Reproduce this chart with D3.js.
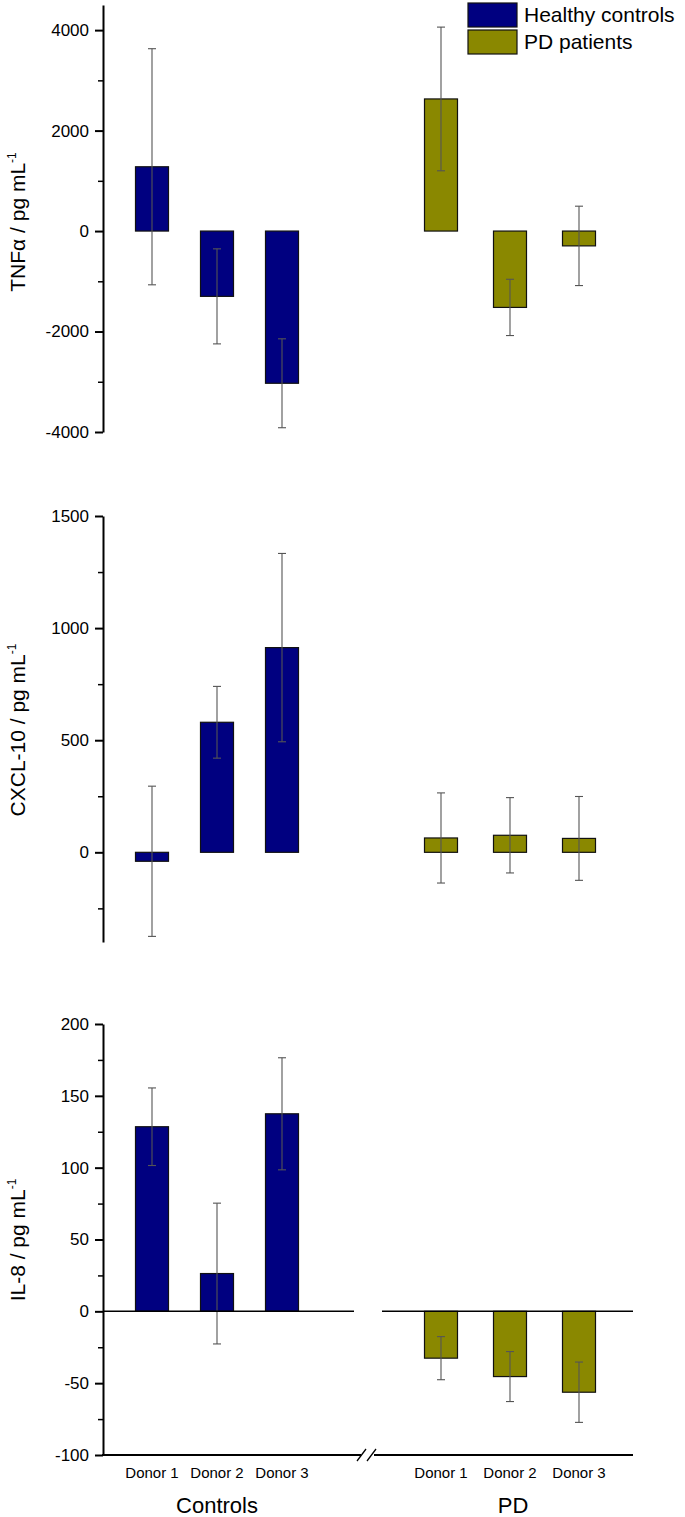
<!DOCTYPE html>
<html>
<head>
<meta charset="utf-8">
<script src="https://cdn.jsdelivr.net/npm/d3@7"></script>
<style>
  body { margin: 0; background: #fff; }
  text { font-family: "Liberation Sans", Arial, sans-serif; fill: #000; }
</style>
</head>
<body>
<script>
const width = 685
const height = 1517

// data
const donors = ["Donor 1", "Donor 2", "Donor 3"]
const groups = ["Controls", "PD"]
const seriesNames = ["Healthy controls", "PD patients"]

const tnfCtrl = [1280, -1300, -3030]
const tnfCtrlErr = [2350, 946, 885]
const tnfPD = [2630, -1520, -295]
const tnfPDErr = [1430, 560, 790]

const cxclCtrl = [-40, 580, 913]
const cxclCtrlErr = [335, 160, 420]
const cxclPD = [64, 76, 62]
const cxclPDErr = [201, 168, 187]

const il8Ctrl = [128.5, 26.3, 137.5]
const il8CtrlErr = [27, 49, 39]
const il8PD = [-32.6, -45.4, -56.3]
const il8PDErr = [15, 17.4, 21]

const tnfTicks = [-4000, -2000, 0, 2000, 4000]
const tnfMinor = [-3000, -1000, 1000, 3000]
const cxclTicks = [0, 500, 1000, 1500]
const cxclMinor = [-250, 250, 750, 1250]
const il8Ticks = [-100, -50, 0, 50, 100, 150, 200]
const il8Minor = [-75, -25, 25, 75, 125, 175]

const navy = '#000080'
const olive = '#8a8800'
const axisX = 103
const barW = 33

var svg = d3.select('body').append('svg')
    .attr('width', width)
    .attr('height', height)

// x positions: two separate point scales, one per group
const xCtrl = d3.scalePoint().domain(donors).range([152, 282])
const xPD = d3.scalePoint().domain(donors).range([441, 579])

// one panel = left axis + bars + error bars
function panel(opts) {
    let y = d3.scaleLinear().domain(opts.domain).range(opts.range)
    let g = svg.append('g')

    // left axis, major ticks (plain hyphen minus, no thousands comma)
    let ax = g.append('g')
        .attr('transform', 'translate(' + axisX + ',0)')
        .call(d3.axisLeft(y).tickValues(opts.ticks).tickSize(8).tickPadding(6)
            .tickSizeOuter(0).tickFormat((d) => String(d)))
    ax.select('.domain').attr('stroke-width', 2)
    ax.selectAll('.tick line').attr('stroke-width', 2)
    ax.selectAll('.tick text')
        .style('font-size', '17px')
        .style('font-family', '"Liberation Sans", Arial, sans-serif')
        .attr('fill', '#000')

    // minor ticks
    let mx = g.append('g')
        .attr('transform', 'translate(' + axisX + ',0)')
        .call(d3.axisLeft(y).tickValues(opts.minor).tickSize(5).tickFormat(''))
    mx.select('.domain').remove()
    mx.selectAll('.tick line').attr('stroke-width', 1.5)

    // title
    g.append('text')
        .attr('transform', 'translate(25,' + opts.titleY + ') rotate(-90)')
        .attr('text-anchor', 'middle')
        .style('font-size', '21px')
        .html(opts.title + '<tspan dy="-9" font-size="12px">-1</tspan>')

    let sets = [
        {x: xCtrl, vals: opts.ctrl, err: opts.ctrlErr, color: navy},
        {x: xPD, vals: opts.pd, err: opts.pdErr, color: olive}
    ]

    sets.forEach(function(s) {
        g.selectAll(null)
            .data(donors)
            .enter().append('rect')
            .attr('x', (d) => s.x(d) - barW / 2)
            .attr('width', barW)
            .attr('y', (d, i) => Math.min(y(0), y(s.vals[i])))
            .attr('height', (d, i) => Math.abs(y(s.vals[i]) - y(0)))
            .attr('fill', s.color)
            .attr('stroke', '#111')
            .attr('stroke-width', 1.2)

        // error bars
        donors.forEach(function(d, i) {
            let cx = s.x(d)
            let top = y(s.vals[i] + s.err[i])
            let bot = y(s.vals[i] - s.err[i])
            g.append('line')
                .attr('x1', cx).attr('x2', cx)
                .attr('y1', top).attr('y2', bot)
                .attr('stroke', '#555').attr('stroke-width', 1.1)
            g.append('line')
                .attr('x1', cx - 4).attr('x2', cx + 4)
                .attr('y1', top).attr('y2', top)
                .attr('stroke', '#555').attr('stroke-width', 1.1)
            g.append('line')
                .attr('x1', cx - 4).attr('x2', cx + 4)
                .attr('y1', bot).attr('y2', bot)
                .attr('stroke', '#555').attr('stroke-width', 1.1)
        })
    })
    return y
}

// TNF-alpha
panel({
    domain: [-4000, 4500], range: [432, 5],
    ticks: tnfTicks, minor: tnfMinor,
    title: 'TNFα / pg mL', titleY: 222,
    ctrl: tnfCtrl, ctrlErr: tnfCtrlErr, pd: tnfPD, pdErr: tnfPDErr
})

// CXCL-10
panel({
    domain: [-400, 1500], range: [942, 516],
    ticks: cxclTicks, minor: cxclMinor,
    title: 'CXCL-10 / pg mL', titleY: 730,
    ctrl: cxclCtrl, ctrlErr: cxclCtrlErr, pd: cxclPD, pdErr: cxclPDErr
})

// IL-8
let yIL = panel({
    domain: [-100, 200], range: [1455, 1024],
    ticks: il8Ticks, minor: il8Minor,
    title: 'IL-8 / pg mL', titleY: 1240,
    ctrl: il8Ctrl, ctrlErr: il8CtrlErr, pd: il8PD, pdErr: il8PDErr
})

// zero line in IL-8 panel, broken between the groups
let y0 = yIL(0)
svg.append('line').attr('x1', axisX).attr('x2', 354).attr('y1', y0).attr('y2', y0)
    .attr('stroke', '#000').attr('stroke-width', 1.5)
svg.append('line').attr('x1', 382).attr('x2', 633).attr('y1', y0).attr('y2', y0)
    .attr('stroke', '#000').attr('stroke-width', 1.5)

// bottom axis with break marks
let yb = yIL(-100)
svg.append('line').attr('x1', axisX - 1).attr('x2', 361).attr('y1', yb).attr('y2', yb)
    .attr('stroke', '#000').attr('stroke-width', 2)
svg.append('line').attr('x1', 374).attr('x2', 633).attr('y1', yb).attr('y2', yb)
    .attr('stroke', '#000').attr('stroke-width', 2)
svg.append('line').attr('x1', 357).attr('x2', 366).attr('y1', yb + 6).attr('y2', yb - 6)
    .attr('stroke', '#000').attr('stroke-width', 1.3)
svg.append('line').attr('x1', 367).attr('x2', 376).attr('y1', yb + 6).attr('y2', yb - 6)
    .attr('stroke', '#000').attr('stroke-width', 1.3)

// donor labels
;[xCtrl, xPD].forEach(function(x) {
    svg.selectAll(null)
        .data(donors)
        .enter().append('text')
        .attr('x', (d) => x(d))
        .attr('y', yb + 23)
        .attr('text-anchor', 'middle')
        .style('font-size', '15px')
        .text((d) => d)
})

// group labels
svg.selectAll(null)
    .data(groups)
    .enter().append('text')
    .attr('x', (d, i) => i == 0 ? xCtrl(donors[1]) : xPD(donors[1]) + 3)
    .attr('y', yb + 58)
    .attr('text-anchor', 'middle')
    .style('font-size', '22px')
    .text((d) => d)

// legend
let leg = svg.append('g')
leg.selectAll('rect')
    .data(seriesNames)
    .enter().append('rect')
    .attr('x', 468)
    .attr('y', (d, i) => 3 + i * 27)
    .attr('width', 49)
    .attr('height', 24)
    .attr('fill', (d, i) => i == 0 ? navy : olive)
    .attr('stroke', '#111')
    .attr('stroke-width', 1.2)
leg.selectAll('text')
    .data(seriesNames)
    .enter().append('text')
    .attr('x', 524)
    .attr('y', (d, i) => 22 + i * 27)
    .style('font-size', '21px')
    .text((d) => d)
</script>
</body>
</html>
